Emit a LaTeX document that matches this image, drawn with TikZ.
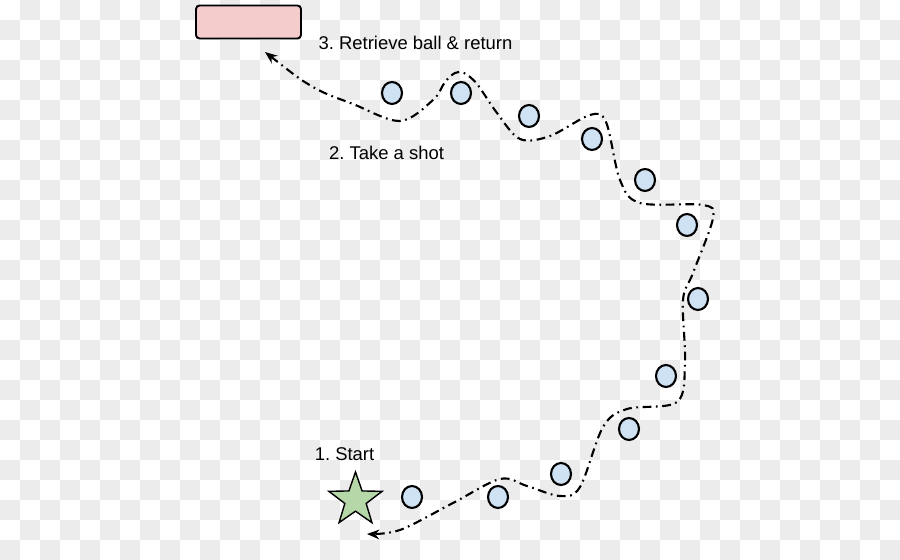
\documentclass[tikz,border=0pt]{standalone}
\usepackage{fontspec}
\setmainfont{Liberation Sans}
\usepackage{xcolor}
\usepackage{tikz}
\usetikzlibrary{arrows.meta,shapes.geometric}
\frenchspacing

\definecolor{checker}{RGB}{236,236,236}
\definecolor{binpink}{HTML}{F4CCCC}
\definecolor{ballblue}{HTML}{CFE2F3}
\definecolor{stargreen}{HTML}{B6D7A8}

\begin{document}
\begin{tikzpicture}[
  x=0.02cm, y=-0.02cm,
  ball/.style={draw, ellipse, fill=ballblue, line width=1.2pt,
               minimum width=0.40cm, minimum height=0.44cm, inner sep=0pt},
  bin/.style={draw, fill=binpink, line width=1.1pt, rounded corners=2pt,
              minimum width=2.10cm, minimum height=0.66cm, inner sep=0pt},
  startstar/.style={draw, star, star points=5, star point ratio=2.5,
                    fill=stargreen, line width=0.8pt,
                    minimum size=1.12cm, inner sep=0pt},
  label/.style={font=\fontsize{10.5}{12}\selectfont, anchor=base},
  trail/.style={line width=1.2pt,
                dash pattern=on 5pt off 2.6pt on 1pt off 2.6pt,
                {Stealth[length=7pt,width=5.5pt]}-{Stealth[length=7pt,width=5.5pt]}}
]
  \useasboundingbox (0,0) rectangle (900,560);
  \fill[white] (0,0) rectangle (900,560);
  \foreach \i in {0,...,44}
    \foreach \j in {0,...,27} {
      \pgfmathtruncatemacro\odd{mod(\i+\j,2)}
      \ifnum\odd=1 \fill[checker] (\i*20,\j*20) rectangle ++(20,20); \fi
    }

  \node[bin] (bin) at (248.5,22) {};
  \node[startstar] (start) at (355.5,500) {};
  \foreach \x/\y [count=\i] in {392/93, 461/93, 529/116, 592/139, 645/180,
                                687/225, 698/299, 666/376, 629/429,
                                561/474, 498/497, 412/497}
    \node[ball] (ball\i) at (\x,\y) {};

  \node[label] (retrieve) at (415.5,50) {3. Retrieve ball \& return};
  \node[label] (shot) at (386.5,160) {2. Take a shot};
  \node[label] (startlbl) at (344.5,461) {1. Start};

  \coordinate (binend) at (265,52);
  \coordinate (startend) at (367,534);

  \draw[trail] plot[smooth, tension=0.55] coordinates {
    (binend) (313,87) (353,104) (400,121) (433,100) (445,82) (455,73)
    (464,73) (477,84) (497,113) (520,139) (550,136) (590,115) (606,122)
    (620,180) (640,203) (703,205) (713,218) (693,273) (683,300) (685,363)
    (677,402) (627,409) (603,427) (580,487) (560,496) (527,486)
    (500,479) (453,503) (400,530) (startend)};
\end{tikzpicture}
\end{document}
